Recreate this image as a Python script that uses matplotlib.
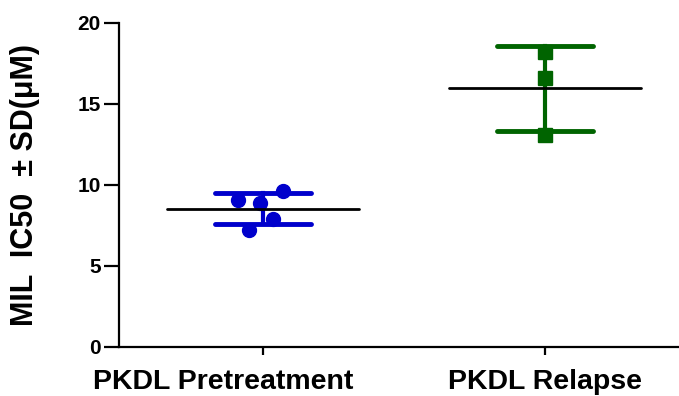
import numpy as np
import matplotlib.pyplot as plt
from matplotlib.transforms import blended_transform_factory

plt.rcParams['font.family'] = ['Liberation Sans', 'DejaVu Sans']
plt.rcParams['font.weight'] = 'bold'

# IC50 values per group (uM)
groups = ["PKDL Pretreatment", "PKDL Relapse"]
pretreatment_ic50 = [9.07, 9.63, 8.89, 7.90, 7.22]
pretreatment_jitter = [-0.089, 0.071, -0.011, 0.035, -0.05]
relapse_ic50 = [18.21, 16.60, 13.09]
relapse_jitter = [0.0, 0.0, 0.0]
y_ticks = [0, 5, 10, 15, 20]

colors = ["#0000cc", "#006400"]
markers = ["o", "s"]
label_shift = [-0.14, 0.0]  # horizontal nudge of group labels, data units

fig = plt.figure(figsize=(6.79, 3.96), dpi=100)
ax = fig.add_axes([0.175, 0.124, 0.825, 0.818])

series = [(pretreatment_ic50, pretreatment_jitter), (relapse_ic50, relapse_jitter)]
for i, (vals, jit) in enumerate(series):
    vals = np.array(vals)
    mean = vals.mean()
    sd = vals.std(ddof=1)
    ax.plot(i + np.array(jit), vals, linestyle="none", marker=markers[i],
            markersize=10, color=colors[i], zorder=2)
    # SD whiskers
    ax.plot([i, i], [mean - sd, mean + sd], color=colors[i], lw=3, zorder=3)
    for y in (mean - sd, mean + sd):
        ax.plot([i - 0.17, i + 0.17], [y, y], color=colors[i], lw=3.5,
                solid_capstyle="round", zorder=3)
    # mean line
    ax.plot([i - 0.34, i + 0.34], [mean, mean], color="black", lw=2,
            solid_capstyle="round", zorder=4)

ax.set_xlim(-0.51, 1.475)
ax.set_ylim(0, 20)
ax.set_xticks(range(len(groups)))
ax.set_xticklabels([])
trans = blended_transform_factory(ax.transData, ax.transAxes)
for i, name in enumerate(groups):
    ax.text(i + label_shift[i], -0.068, name, transform=trans, ha="center",
            va="top", fontsize=20.5, fontweight="bold")

ax.set_yticks(y_ticks)
ax.set_yticklabels([str(t) for t in y_ticks], fontsize=15, fontweight="bold")
ax.set_ylabel("MIL  IC50  \u00b1 SD(\u03bcM)", fontsize=22, fontweight="bold")
ax.yaxis.set_label_coords(-0.14, 0.5)

for side in ("top", "right"):
    ax.spines[side].set_visible(False)
for side in ("left", "bottom"):
    ax.spines[side].set_linewidth(1.6)
ax.tick_params(axis="y", width=1.6, length=11, pad=2)
ax.tick_params(axis="x", width=1.6, length=6)

plt.savefig("out.png", dpi=100)
